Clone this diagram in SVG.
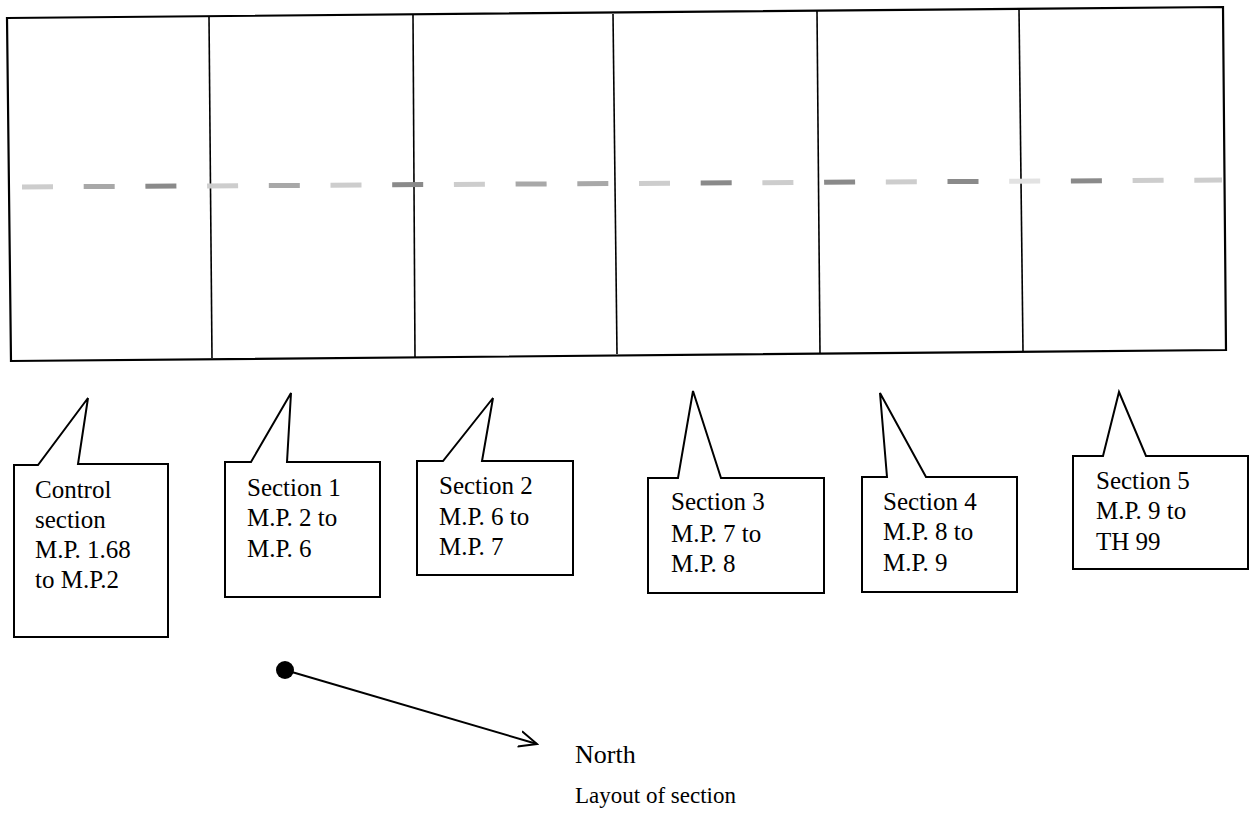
<svg xmlns="http://www.w3.org/2000/svg" width="1251" height="816" viewBox="0 0 1251 816">
<style>
.frame{fill:none;stroke:#000;stroke-width:2.2}
.div{stroke:#000;stroke-width:1.6}
.dash{stroke-width:5}
.d{stroke:#8a8a8a}.m{stroke:#a8a8a8}.l{stroke:#cdcdcd}.v{stroke:#e2e2e2}
.callout{fill:#fff;stroke:#000;stroke-width:2}
.t{font-family:"Liberation Serif","Times New Roman",serif;font-size:25px;fill:#000}
.cap{font-family:"Liberation Serif","Times New Roman",serif;fill:#000}
</style>
<defs>
<marker id="open" viewBox="0 0 20 20" refX="18" refY="10" markerWidth="20" markerHeight="20" markerUnits="userSpaceOnUse" orient="auto">
<path d="M0,2 L18,10 L0,18" fill="none" stroke="#000" stroke-width="2"/>
</marker>
</defs>
<rect width="1251" height="816" fill="#fff"/>
<g id="road">
<polygon class="frame" points="7,18 1223,7 1226,350 11,361"/>
<line class="div" x1="209" y1="17" x2="212" y2="358"/>
<line class="div" x1="413" y1="15" x2="415" y2="357"/>
<line class="div" x1="613" y1="14" x2="617" y2="354"/>
<line class="div" x1="817" y1="11" x2="820" y2="353"/>
<line class="div" x1="1019" y1="9" x2="1023" y2="351"/>
<g id="centerline" class="dash">
<line class="l" x1="22" y1="187" x2="53" y2="186.8"/>
<line class="m" x1="83.7" y1="186.6" x2="114.7" y2="186.4"/>
<line class="d" x1="145.4" y1="186.3" x2="176.4" y2="186.1"/>
<line class="l" x1="207.1" y1="185.9" x2="238.1" y2="185.7"/>
<line class="m" x1="268.8" y1="185.6" x2="299.8" y2="185.4"/>
<line class="l" x1="330.5" y1="185.2" x2="361.5" y2="185"/>
<line class="d" x1="392.2" y1="184.8" x2="423.2" y2="184.6"/>
<line class="l" x1="453.9" y1="184.5" x2="484.9" y2="184.3"/>
<line class="m" x1="515.6" y1="184.1" x2="546.6" y2="183.9"/>
<line class="m" x1="577.3" y1="183.8" x2="608.3" y2="183.6"/>
<line class="l" x1="639" y1="183.4" x2="670" y2="183.2"/>
<line class="d" x1="700.7" y1="183" x2="731.7" y2="182.8"/>
<line class="l" x1="762.4" y1="182.7" x2="793.4" y2="182.5"/>
<line class="d" x1="824.1" y1="182.3" x2="855.1" y2="182.1"/>
<line class="l" x1="885.8" y1="182" x2="916.8" y2="181.8"/>
<line class="d" x1="947.5" y1="181.6" x2="978.5" y2="181.4"/>
<line class="v" x1="1009.2" y1="181.2" x2="1040.2" y2="181"/>
<line class="d" x1="1070.9" y1="180.9" x2="1101.9" y2="180.7"/>
<line class="l" x1="1132.6" y1="180.5" x2="1163.6" y2="180.3"/>
<line class="l" x1="1194.3" y1="180.2" x2="1222" y2="180"/>
</g>
</g>
<g id="control">
<path class="callout" d="M14,465 H38 L88,398 L78,464 H168 V637 H14 Z"/>
<text class="t" x="35" y="498">Control</text>
<text class="t" x="35" y="528">section</text>
<text class="t" x="35" y="558">M.P. 1.68</text>
<text class="t" x="35" y="588">to M.P.2</text>
</g>
<g id="section1">
<path class="callout" d="M225,462 H251 L291,393 L287,462 H380 V597 H225 Z"/>
<text class="t" x="247" y="496">Section 1</text>
<text class="t" x="247" y="526">M.P. 2 to</text>
<text class="t" x="247" y="557">M.P. 6</text>
</g>
<g id="section2">
<path class="callout" d="M417,461 H443 L493,398 L482,461 H573 V575 H417 Z"/>
<text class="t" x="439" y="494">Section 2</text>
<text class="t" x="439" y="525">M.P. 6 to</text>
<text class="t" x="439" y="555">M.P. 7</text>
</g>
<g id="section3">
<path class="callout" d="M648,478 H678 L693,391 L721,478 H824 V593 H648 Z"/>
<text class="t" x="671" y="510">Section 3</text>
<text class="t" x="671" y="542">M.P. 7 to</text>
<text class="t" x="671" y="572">M.P. 8</text>
</g>
<g id="section4">
<path class="callout" d="M862,477 H887 L880,393 L926,477 H1017 V592 H862 Z"/>
<text class="t" x="883" y="510">Section 4</text>
<text class="t" x="883" y="540">M.P. 8 to</text>
<text class="t" x="883" y="571">M.P. 9</text>
</g>
<g id="section5">
<path class="callout" d="M1073,456 H1103 L1119,392 L1146,456 H1248 V569 H1073 Z"/>
<text class="t" x="1096" y="489">Section 5</text>
<text class="t" x="1096" y="519">M.P. 9 to</text>
<text class="t" x="1096" y="550">TH 99</text>
</g>
<g id="connectors">
<circle cx="285" cy="670" r="9" fill="#000"/>
<line x1="285" y1="670" x2="537" y2="744" stroke="#000" stroke-width="2" marker-end="url(#open)"/>
</g>
<g id="labels">
<text class="cap" x="575" y="763" font-size="26">North</text>
<text class="cap" x="575" y="803" font-size="23">Layout of section</text>
</g>
</svg>
